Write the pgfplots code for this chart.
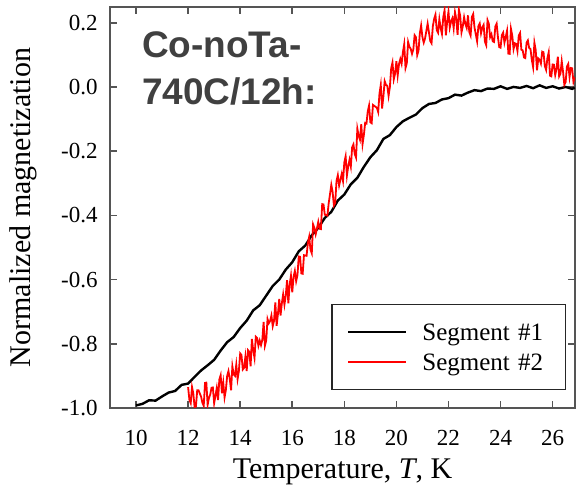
\documentclass[border=0pt]{standalone}
\usepackage{fontspec}
\setmainfont{Liberation Serif}
\newfontfamily\titlefont{Liberation Sans}
\usepackage{pgfplots}
\pgfplotsset{compat=1.18}
\definecolor{axgray}{RGB}{85,85,85}
\definecolor{titlegray}{RGB}{64,64,64}
\begin{document}
\begin{tikzpicture}
\begin{axis}[
  scale only axis, width=232.5pt, height=200.5pt,
  xmin=9, xmax=26.86, ymin=-1, ymax=0.249,
  axis line style={axgray, line width=1pt},
  every tick/.style={axgray, line width=0.8pt},
  tick align=inside, major tick length=3.5pt,
  xtick={10,12,14,16,18,20,22,24,26},
  xticklabels={10,12,14,16,18,20,22,24,26},
  ytick={-1,-0.8,-0.6,-0.4,-0.2,0,0.2},
  yticklabels={-1.0,-0.8,-0.6,-0.4,-0.2,0.0,0.2},
  tick label style={font=\fontsize{11.5}{13}\selectfont, black},
  xticklabel style={anchor=base, yshift=-18.8pt},
  yticklabel style={xshift=-2.7pt},
  xlabel={Temperature, \textit{T}, K},
  xlabel style={font=\fontsize{15}{18}\selectfont, at={(axis description cs:0.5,-0.1746)}, anchor=base},
  ylabel={Normalized magnetization},
  ylabel style={font=\fontsize{15}{18}\selectfont, at={(axis description cs:-0.172,0.5)}, anchor=base},
  legend style={at={(axis description cs:1,0)}, anchor=south east, xshift=-4.5pt, yshift=9pt,
    draw=black!85, line width=0.6pt, font=\fontsize{12.5}{15}\selectfont,
    inner xsep=7.5pt, inner ysep=6.25pt, row sep=0pt,
    nodes={inner sep=0pt, text width=64pt, text height=12pt, text depth=3pt, align=left},
    /tikz/every odd column/.append style={column sep=7.5pt}},
  legend cell align=left,
  legend image code/.code={\draw[#1] plot coordinates {(0pt,0pt) (14.5pt,0pt) (29pt,0pt)};},
  clip=true,
]
\addplot[black, line width=1.2pt] coordinates {
(10.00,-0.992) (10.25,-0.987) (10.50,-0.976) (10.75,-0.977) (11.00,-0.964)
(11.25,-0.952) (11.50,-0.947) (11.75,-0.928) (12.00,-0.924) (12.25,-0.903)
(12.50,-0.883) (12.75,-0.867) (13.00,-0.850) (13.25,-0.821) (13.50,-0.795)
(13.75,-0.779) (14.00,-0.751) (14.25,-0.728) (14.50,-0.696) (14.75,-0.680)
(15.00,-0.650) (15.25,-0.620) (15.50,-0.600) (15.75,-0.569) (16.00,-0.546)
(16.25,-0.512) (16.50,-0.494) (16.75,-0.462) (17.00,-0.439) (17.25,-0.408)
(17.50,-0.389) (17.75,-0.354) (18.00,-0.335) (18.25,-0.303) (18.50,-0.283)
(18.75,-0.249) (19.00,-0.219) (19.25,-0.197) (19.50,-0.162) (19.75,-0.150)
(20.00,-0.125) (20.25,-0.107) (20.50,-0.096) (20.75,-0.086) (21.00,-0.066)
(21.25,-0.053) (21.50,-0.050) (21.75,-0.039) (22.00,-0.035) (22.25,-0.024)
(22.50,-0.027) (22.75,-0.0175) (23.00,-0.010) (23.25,-0.013) (23.50,-0.005)
(23.75,-0.006) (24.00,0.002) (24.25,-0.006) (24.50,0.000) (24.75,-0.003)
(25.00,0.003) (25.25,-0.004) (25.50,0.005) (25.75,-0.003) (26.00,0.002)
(26.25,-0.005) (26.50,0.000) (26.75,-0.006) (26.85,-0.002)
};
\addlegendentry{Segment \#1}
\addplot[red, line width=0.9pt] coordinates {
(12.00,-0.935) (12.05,-0.975) (12.10,-0.985) (12.15,-0.935) (12.20,-0.955) (12.25,-0.998)
(12.30,-0.995) (12.35,-0.945) (12.40,-0.945) (12.45,-0.955) (12.50,-0.965) (12.55,-0.984)
(12.60,-0.993) (12.65,-0.922) (12.70,-0.921) (12.75,-0.990) (12.80,-0.969) (12.85,-0.958)
(12.90,-0.937) (12.95,-0.936) (13.00,-0.985) (13.05,-0.962) (13.10,-0.938) (13.15,-0.975)
(13.20,-0.911) (13.25,-0.898) (13.30,-0.954) (13.35,-0.921) (13.40,-0.967) (13.45,-0.944)
(13.50,-0.900) (13.55,-0.885) (13.60,-0.910) (13.65,-0.945) (13.70,-0.870) (13.75,-0.895)
(13.80,-0.900) (13.85,-0.865) (13.90,-0.910) (13.95,-0.885) (14.00,-0.830) (14.05,-0.835)
(14.10,-0.880) (14.15,-0.875) (14.20,-0.840) (14.25,-0.885) (14.30,-0.820) (14.35,-0.825)
(14.40,-0.870) (14.45,-0.785) (14.50,-0.820) (14.55,-0.844) (14.60,-0.778) (14.65,-0.782)
(14.70,-0.806) (14.75,-0.790) (14.80,-0.804) (14.85,-0.788) (14.90,-0.732) (14.95,-0.806)
(15.00,-0.790) (15.05,-0.723) (15.10,-0.736) (15.15,-0.729) (15.20,-0.712) (15.25,-0.745)
(15.30,-0.728) (15.35,-0.671) (15.40,-0.744) (15.45,-0.707) (15.50,-0.660) (15.55,-0.712)
(15.60,-0.674) (15.65,-0.646) (15.70,-0.678) (15.75,-0.650) (15.80,-0.602) (15.85,-0.674)
(15.90,-0.616) (15.95,-0.588) (16.00,-0.640) (16.05,-0.592) (16.10,-0.573) (16.15,-0.605)
(16.20,-0.586) (16.25,-0.528) (16.30,-0.529) (16.35,-0.581) (16.40,-0.582) (16.45,-0.524)
(16.50,-0.525) (16.55,-0.526) (16.60,-0.486) (16.65,-0.467) (16.70,-0.507) (16.75,-0.518)
(16.80,-0.428) (16.85,-0.439) (16.90,-0.459) (16.95,-0.440) (17.00,-0.420) (17.05,-0.442)
(17.10,-0.443) (17.15,-0.365) (17.20,-0.366) (17.25,-0.398) (17.30,-0.399) (17.35,-0.401)
(17.40,-0.362) (17.45,-0.334) (17.50,-0.305) (17.55,-0.327) (17.60,-0.369) (17.65,-0.361)
(17.70,-0.293) (17.75,-0.275) (17.80,-0.307) (17.85,-0.289) (17.90,-0.271) (17.95,-0.293)
(18.00,-0.235) (18.05,-0.216) (18.10,-0.276) (18.15,-0.247) (18.20,-0.227) (18.25,-0.248)
(18.30,-0.188) (18.35,-0.179) (18.40,-0.209) (18.45,-0.220) (18.50,-0.130) (18.55,-0.152)
(18.60,-0.164) (18.65,-0.116) (18.70,-0.178) (18.75,-0.150) (18.80,-0.112) (18.85,-0.114)
(18.90,-0.076) (18.95,-0.058) (19.00,-0.110) (19.05,-0.113) (19.10,-0.056) (19.15,-0.059)
(19.20,-0.062) (19.25,-0.065) (19.30,-0.078) (19.35,-0.021) (19.40,0.006) (19.45,-0.067)
(19.50,-0.030) (19.55,0.018) (19.60,0.006) (19.65,0.004) (19.70,-0.028) (19.75,0.000)
(19.80,0.058) (19.85,0.076) (19.90,0.024) (19.95,0.042) (20.00,0.080) (20.05,0.036)
(20.10,0.071) (20.15,0.087) (20.20,0.072) (20.25,0.108) (20.30,0.133) (20.35,0.059)
(20.40,0.074) (20.45,0.140) (20.50,0.125) (20.55,0.119) (20.60,0.103) (20.65,0.117)
(20.70,0.161) (20.75,0.155) (20.80,0.099) (20.85,0.113) (20.90,0.167) (20.95,0.191)
(21.00,0.155) (21.05,0.138) (21.10,0.151) (21.15,0.174) (21.20,0.197) (21.25,0.170)
(21.30,0.143) (21.35,0.136) (21.40,0.189) (21.45,0.212) (21.50,0.225) (21.55,0.177)
(21.60,0.169) (21.65,0.211) (21.70,0.183) (21.75,0.165) (21.80,0.217) (21.85,0.239)
(21.90,0.161) (21.95,0.203) (22.00,0.235) (22.05,0.185) (22.10,0.204) (22.15,0.214)
(22.20,0.183) (22.25,0.233) (22.30,0.212) (22.35,0.162) (22.40,0.241) (22.45,0.221)
(22.50,0.170) (22.55,0.189) (22.60,0.217) (22.65,0.196) (22.70,0.184) (22.75,0.223)
(22.80,0.171) (22.85,0.160) (22.90,0.218) (22.95,0.227) (23.00,0.185) (23.05,0.164)
(23.10,0.142) (23.15,0.190) (23.20,0.198) (23.25,0.167) (23.30,0.185) (23.35,0.193)
(23.40,0.141) (23.45,0.130) (23.50,0.208) (23.55,0.197) (23.60,0.155) (23.65,0.164)
(23.70,0.142) (23.75,0.140) (23.80,0.188) (23.85,0.197) (23.90,0.155) (23.95,0.124)
(24.00,0.122) (24.05,0.161) (24.10,0.169) (24.15,0.138) (24.20,0.156) (24.25,0.175)
(24.30,0.104) (24.35,0.103) (24.40,0.181) (24.45,0.160) (24.50,0.118) (24.55,0.136)
(24.60,0.134) (24.65,0.112) (24.70,0.160) (24.75,0.168) (24.80,0.116) (24.85,0.114)
(24.90,0.092) (24.95,0.090) (25.00,0.138) (25.05,0.145) (25.10,0.121) (25.15,0.118)
(25.20,0.085) (25.25,0.062) (25.30,0.138) (25.35,0.115) (25.40,0.052) (25.45,0.089)
(25.50,0.085) (25.55,0.073) (25.60,0.110) (25.65,0.108) (25.70,0.065) (25.75,0.053)
(25.80,0.090) (25.85,0.108) (25.90,0.035) (25.95,0.033) (26.00,0.070) (26.05,0.069)
(26.10,0.037) (26.15,0.056) (26.20,0.094) (26.25,0.033) (26.30,0.041) (26.35,0.080)
(26.40,0.048) (26.45,0.007) (26.50,0.015) (26.55,0.064) (26.60,0.072) (26.65,0.031)
(26.70,0.059) (26.75,0.058) (26.80,0.016) (26.85,0.030)
};
\addlegendentry{Segment \#2}
\node[anchor=base west, font=\titlefont\bfseries\fontsize{18.5}{22}\selectfont, text=titlegray, inner sep=0pt]
  at (axis description cs:0.068,0.874) {Co-noTa-};
\node[anchor=base west, font=\titlefont\bfseries\fontsize{18.5}{22}\selectfont, text=titlegray, inner sep=0pt]
  at (axis description cs:0.068,0.756) {740C/12h:};
\end{axis}
\pgfresetboundingbox
\path[use as bounding box] (-55pt,-38.5pt) rectangle (233pt,204pt);
\end{tikzpicture}
\end{document}
